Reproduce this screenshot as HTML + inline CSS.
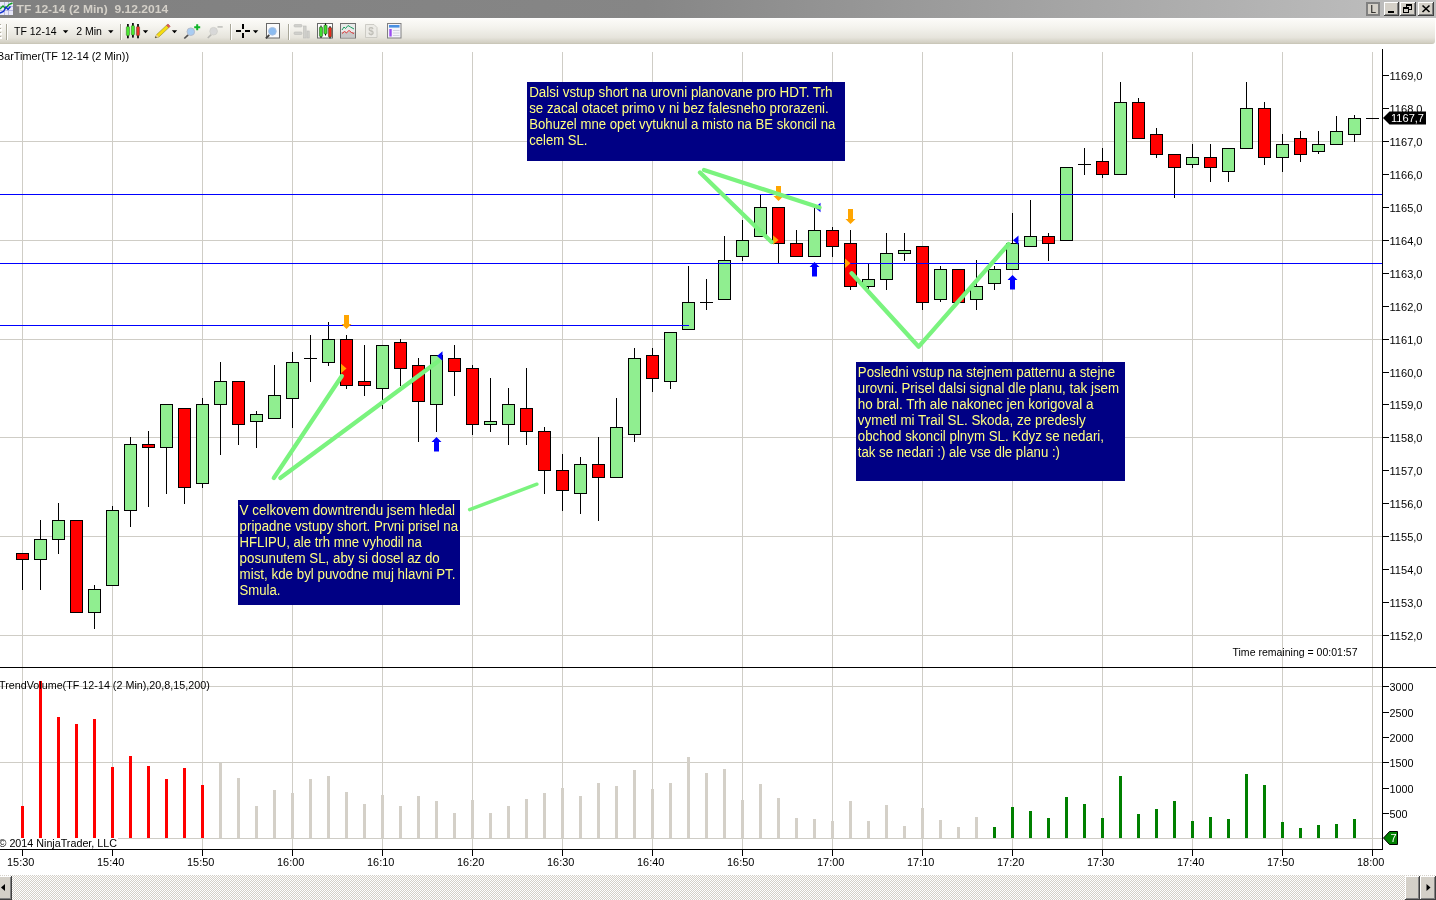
<!DOCTYPE html>
<html><head><meta charset="utf-8"><title>TF 12-14 (2 Min) 9.12.2014</title>
<style>
html,body{margin:0;padding:0}
body{width:1436px;height:900px;overflow:hidden;background:#fff;position:relative;font-family:"Liberation Sans",Arial,sans-serif;}
.abs{position:absolute}
#title{left:0;top:0;width:1436px;height:18px;background:linear-gradient(to right,#808080 0%,#868686 45%,#c0c0c0 100%);}
#title .t{position:absolute;left:16px;top:1px;font:bold 12px/15px "Liberation Sans",sans-serif;color:#d4d0c8;white-space:pre;letter-spacing:0px}
#tb{left:0;top:18px;width:1435px;height:26px;background:linear-gradient(to bottom,#ffffff 0,#fbfaf7 2px,#f4f3ee 35%,#e6e4dc 75%,#d3d0c4 94%,#c6c3b4 100%);border-radius:0 0 3px 0}
#tb span{position:absolute;top:6px;font:11px/13px "Liberation Sans",sans-serif;color:#000;white-space:pre}
.note{position:absolute;background:#000080;color:#f3f38f;font:13.4px/16px "Liberation Sans",sans-serif;white-space:pre;box-sizing:border-box;padding:0;overflow:hidden}
.note div{position:absolute;left:0;top:0}
svg text{font-family:"Liberation Sans",Arial,sans-serif;font-size:11px;fill:#000}
svg .nt text{font-size:14px;fill:#ffff80}
</style></head><body>
<div id="title" class="abs"></div>
<div id="tb" class="abs"></div>

<svg class="abs" style="left:0;top:0" width="1436" height="900" viewBox="0 0 1436 900">
<g shape-rendering="crispEdges" fill="#cfcdc6">
<rect x="22" y="52" width="1" height="615"/>
<rect x="22" y="668" width="1" height="181"/>
<rect x="112" y="52" width="1" height="615"/>
<rect x="112" y="668" width="1" height="181"/>
<rect x="202" y="52" width="1" height="615"/>
<rect x="202" y="668" width="1" height="181"/>
<rect x="292" y="52" width="1" height="615"/>
<rect x="292" y="668" width="1" height="181"/>
<rect x="382" y="52" width="1" height="615"/>
<rect x="382" y="668" width="1" height="181"/>
<rect x="472" y="52" width="1" height="615"/>
<rect x="472" y="668" width="1" height="181"/>
<rect x="562" y="52" width="1" height="615"/>
<rect x="562" y="668" width="1" height="181"/>
<rect x="652" y="52" width="1" height="615"/>
<rect x="652" y="668" width="1" height="181"/>
<rect x="742" y="52" width="1" height="615"/>
<rect x="742" y="668" width="1" height="181"/>
<rect x="832" y="52" width="1" height="615"/>
<rect x="832" y="668" width="1" height="181"/>
<rect x="922" y="52" width="1" height="615"/>
<rect x="922" y="668" width="1" height="181"/>
<rect x="1012" y="52" width="1" height="615"/>
<rect x="1012" y="668" width="1" height="181"/>
<rect x="1102" y="52" width="1" height="615"/>
<rect x="1102" y="668" width="1" height="181"/>
<rect x="1192" y="52" width="1" height="615"/>
<rect x="1192" y="668" width="1" height="181"/>
<rect x="1282" y="52" width="1" height="615"/>
<rect x="1282" y="668" width="1" height="181"/>
<rect x="1372" y="52" width="1" height="615"/>
<rect x="1372" y="668" width="1" height="181"/>
<rect x="0" y="141" width="1382" height="1"/>
<rect x="0" y="240" width="1382" height="1"/>
<rect x="0" y="339" width="1382" height="1"/>
<rect x="0" y="437" width="1382" height="1"/>
<rect x="0" y="536" width="1382" height="1"/>
<rect x="0" y="635" width="1382" height="1"/>
<rect x="0" y="686" width="1382" height="1"/>
<rect x="0" y="762" width="1382" height="1"/>
<rect x="0" y="838" width="1382" height="1"/>
</g>
<g shape-rendering="crispEdges">
<rect x="21" y="806" width="3" height="32" fill="#ff0000"/>
<rect x="39" y="681" width="3" height="157" fill="#ff0000"/>
<rect x="57" y="717" width="3" height="121" fill="#ff0000"/>
<rect x="75" y="724" width="3" height="114" fill="#ff0000"/>
<rect x="93" y="719" width="3" height="119" fill="#ff0000"/>
<rect x="111" y="767" width="3" height="71" fill="#ff0000"/>
<rect x="129" y="756" width="3" height="82" fill="#ff0000"/>
<rect x="147" y="766" width="3" height="72" fill="#ff0000"/>
<rect x="165" y="779" width="3" height="59" fill="#ff0000"/>
<rect x="183" y="768" width="3" height="70" fill="#ff0000"/>
<rect x="201" y="785" width="3" height="53" fill="#ff0000"/>
<rect x="219" y="763" width="3" height="75" fill="#d4d0c8"/>
<rect x="237" y="778" width="3" height="60" fill="#d4d0c8"/>
<rect x="255" y="806" width="3" height="32" fill="#d4d0c8"/>
<rect x="273" y="790" width="3" height="48" fill="#d4d0c8"/>
<rect x="291" y="793" width="3" height="45" fill="#d4d0c8"/>
<rect x="309" y="779" width="3" height="59" fill="#d4d0c8"/>
<rect x="327" y="776" width="3" height="62" fill="#d4d0c8"/>
<rect x="345" y="792" width="3" height="46" fill="#d4d0c8"/>
<rect x="363" y="804" width="3" height="34" fill="#d4d0c8"/>
<rect x="381" y="795" width="3" height="43" fill="#d4d0c8"/>
<rect x="399" y="806" width="3" height="32" fill="#d4d0c8"/>
<rect x="417" y="796" width="3" height="42" fill="#d4d0c8"/>
<rect x="435" y="801" width="3" height="37" fill="#d4d0c8"/>
<rect x="453" y="813" width="3" height="25" fill="#d4d0c8"/>
<rect x="471" y="800" width="3" height="38" fill="#d4d0c8"/>
<rect x="489" y="813" width="3" height="25" fill="#d4d0c8"/>
<rect x="507" y="806" width="3" height="32" fill="#d4d0c8"/>
<rect x="525" y="799" width="3" height="39" fill="#d4d0c8"/>
<rect x="543" y="793" width="3" height="45" fill="#d4d0c8"/>
<rect x="561" y="788" width="3" height="50" fill="#d4d0c8"/>
<rect x="579" y="796" width="3" height="42" fill="#d4d0c8"/>
<rect x="597" y="783" width="3" height="55" fill="#d4d0c8"/>
<rect x="615" y="786" width="3" height="52" fill="#d4d0c8"/>
<rect x="633" y="770" width="3" height="68" fill="#d4d0c8"/>
<rect x="651" y="789" width="3" height="49" fill="#d4d0c8"/>
<rect x="669" y="783" width="3" height="55" fill="#d4d0c8"/>
<rect x="687" y="757" width="3" height="81" fill="#d4d0c8"/>
<rect x="705" y="773" width="3" height="65" fill="#d4d0c8"/>
<rect x="723" y="769" width="3" height="69" fill="#d4d0c8"/>
<rect x="741" y="800" width="3" height="38" fill="#d4d0c8"/>
<rect x="759" y="784" width="3" height="54" fill="#d4d0c8"/>
<rect x="777" y="798" width="3" height="40" fill="#d4d0c8"/>
<rect x="795" y="818" width="3" height="20" fill="#d4d0c8"/>
<rect x="813" y="819" width="3" height="19" fill="#d4d0c8"/>
<rect x="831" y="821" width="3" height="17" fill="#d4d0c8"/>
<rect x="849" y="801" width="3" height="37" fill="#d4d0c8"/>
<rect x="867" y="821" width="3" height="17" fill="#d4d0c8"/>
<rect x="885" y="805" width="3" height="33" fill="#d4d0c8"/>
<rect x="903" y="826" width="3" height="12" fill="#d4d0c8"/>
<rect x="921" y="808" width="3" height="30" fill="#d4d0c8"/>
<rect x="939" y="820" width="3" height="18" fill="#d4d0c8"/>
<rect x="957" y="827" width="3" height="11" fill="#d4d0c8"/>
<rect x="975" y="817" width="3" height="21" fill="#d4d0c8"/>
<rect x="993" y="827" width="3" height="11" fill="#008000"/>
<rect x="1011" y="807" width="3" height="31" fill="#008000"/>
<rect x="1029" y="811" width="3" height="27" fill="#008000"/>
<rect x="1047" y="818" width="3" height="20" fill="#008000"/>
<rect x="1065" y="797" width="3" height="41" fill="#008000"/>
<rect x="1083" y="804" width="3" height="34" fill="#008000"/>
<rect x="1101" y="818" width="3" height="20" fill="#008000"/>
<rect x="1119" y="776" width="3" height="62" fill="#008000"/>
<rect x="1137" y="814" width="3" height="24" fill="#008000"/>
<rect x="1155" y="809" width="3" height="29" fill="#008000"/>
<rect x="1173" y="801" width="3" height="37" fill="#008000"/>
<rect x="1191" y="821" width="3" height="17" fill="#008000"/>
<rect x="1209" y="817" width="3" height="21" fill="#008000"/>
<rect x="1227" y="819" width="3" height="19" fill="#008000"/>
<rect x="1245" y="774" width="3" height="64" fill="#008000"/>
<rect x="1263" y="785" width="3" height="53" fill="#008000"/>
<rect x="1281" y="822" width="3" height="16" fill="#008000"/>
<rect x="1299" y="828" width="3" height="10" fill="#008000"/>
<rect x="1317" y="825" width="3" height="13" fill="#008000"/>
<rect x="1335" y="824" width="3" height="14" fill="#008000"/>
<rect x="1353" y="819" width="3" height="19" fill="#008000"/>
</g>
<g shape-rendering="crispEdges">
<rect x="22" y="553" width="1" height="37" fill="#000"/>
<rect x="16" y="553" width="13" height="7" fill="#000"/>
<rect x="17" y="554" width="11" height="5" fill="#ff0000"/>
<rect x="40" y="520" width="1" height="70" fill="#000"/>
<rect x="34" y="539" width="13" height="21" fill="#000"/>
<rect x="35" y="540" width="11" height="19" fill="#90ee90"/>
<rect x="58" y="503" width="1" height="51" fill="#000"/>
<rect x="52" y="520" width="13" height="20" fill="#000"/>
<rect x="53" y="521" width="11" height="18" fill="#90ee90"/>
<rect x="76" y="520" width="1" height="92" fill="#000"/>
<rect x="70" y="520" width="13" height="93" fill="#000"/>
<rect x="71" y="521" width="11" height="91" fill="#ff0000"/>
<rect x="94" y="585" width="1" height="44" fill="#000"/>
<rect x="88" y="589" width="13" height="24" fill="#000"/>
<rect x="89" y="590" width="11" height="22" fill="#90ee90"/>
<rect x="112" y="506" width="1" height="80" fill="#000"/>
<rect x="106" y="510" width="13" height="76" fill="#000"/>
<rect x="107" y="511" width="11" height="74" fill="#90ee90"/>
<rect x="130" y="437" width="1" height="90" fill="#000"/>
<rect x="124" y="444" width="13" height="67" fill="#000"/>
<rect x="125" y="445" width="11" height="65" fill="#90ee90"/>
<rect x="148" y="431" width="1" height="76" fill="#000"/>
<rect x="142" y="444" width="13" height="4" fill="#000"/>
<rect x="143" y="445" width="11" height="2" fill="#ff0000"/>
<rect x="166" y="404" width="1" height="90" fill="#000"/>
<rect x="160" y="404" width="13" height="44" fill="#000"/>
<rect x="161" y="405" width="11" height="42" fill="#90ee90"/>
<rect x="184" y="408" width="1" height="96" fill="#000"/>
<rect x="178" y="408" width="13" height="80" fill="#000"/>
<rect x="179" y="409" width="11" height="78" fill="#ff0000"/>
<rect x="202" y="398" width="1" height="90" fill="#000"/>
<rect x="196" y="404" width="13" height="80" fill="#000"/>
<rect x="197" y="405" width="11" height="78" fill="#90ee90"/>
<rect x="220" y="362" width="1" height="93" fill="#000"/>
<rect x="214" y="381" width="13" height="24" fill="#000"/>
<rect x="215" y="382" width="11" height="22" fill="#90ee90"/>
<rect x="238" y="381" width="1" height="64" fill="#000"/>
<rect x="232" y="381" width="13" height="44" fill="#000"/>
<rect x="233" y="382" width="11" height="42" fill="#ff0000"/>
<rect x="256" y="411" width="1" height="37" fill="#000"/>
<rect x="250" y="414" width="13" height="8" fill="#000"/>
<rect x="251" y="415" width="11" height="6" fill="#90ee90"/>
<rect x="274" y="365" width="1" height="53" fill="#000"/>
<rect x="268" y="395" width="13" height="24" fill="#000"/>
<rect x="269" y="396" width="11" height="22" fill="#90ee90"/>
<rect x="292" y="352" width="1" height="76" fill="#000"/>
<rect x="286" y="362" width="13" height="37" fill="#000"/>
<rect x="287" y="363" width="11" height="35" fill="#90ee90"/>
<rect x="310" y="335" width="1" height="47" fill="#000"/>
<rect x="304" y="358" width="13" height="1" fill="#000"/>
<rect x="328" y="322" width="1" height="44" fill="#000"/>
<rect x="322" y="339" width="13" height="24" fill="#000"/>
<rect x="323" y="340" width="11" height="22" fill="#90ee90"/>
<rect x="346" y="335" width="1" height="54" fill="#000"/>
<rect x="340" y="339" width="13" height="47" fill="#000"/>
<rect x="341" y="340" width="11" height="45" fill="#ff0000"/>
<rect x="364" y="345" width="1" height="51" fill="#000"/>
<rect x="358" y="381" width="13" height="5" fill="#000"/>
<rect x="359" y="382" width="11" height="3" fill="#ff0000"/>
<rect x="382" y="345" width="1" height="64" fill="#000"/>
<rect x="376" y="345" width="13" height="44" fill="#000"/>
<rect x="377" y="346" width="11" height="42" fill="#90ee90"/>
<rect x="400" y="339" width="1" height="47" fill="#000"/>
<rect x="394" y="342" width="13" height="27" fill="#000"/>
<rect x="395" y="343" width="11" height="25" fill="#ff0000"/>
<rect x="418" y="358" width="1" height="84" fill="#000"/>
<rect x="412" y="365" width="13" height="37" fill="#000"/>
<rect x="413" y="366" width="11" height="35" fill="#ff0000"/>
<rect x="436" y="356" width="1" height="76" fill="#000"/>
<rect x="430" y="355" width="13" height="50" fill="#000"/>
<rect x="431" y="356" width="11" height="48" fill="#90ee90"/>
<rect x="454" y="345" width="1" height="51" fill="#000"/>
<rect x="448" y="358" width="13" height="14" fill="#000"/>
<rect x="449" y="359" width="11" height="12" fill="#ff0000"/>
<rect x="472" y="365" width="1" height="70" fill="#000"/>
<rect x="466" y="368" width="13" height="57" fill="#000"/>
<rect x="467" y="369" width="11" height="55" fill="#ff0000"/>
<rect x="490" y="378" width="1" height="54" fill="#000"/>
<rect x="484" y="421" width="13" height="4" fill="#000"/>
<rect x="485" y="422" width="11" height="2" fill="#90ee90"/>
<rect x="508" y="388" width="1" height="57" fill="#000"/>
<rect x="502" y="404" width="13" height="21" fill="#000"/>
<rect x="503" y="405" width="11" height="19" fill="#90ee90"/>
<rect x="526" y="368" width="1" height="77" fill="#000"/>
<rect x="520" y="408" width="13" height="24" fill="#000"/>
<rect x="521" y="409" width="11" height="22" fill="#ff0000"/>
<rect x="544" y="427" width="1" height="67" fill="#000"/>
<rect x="538" y="431" width="13" height="40" fill="#000"/>
<rect x="539" y="432" width="11" height="38" fill="#ff0000"/>
<rect x="562" y="454" width="1" height="57" fill="#000"/>
<rect x="556" y="470" width="13" height="21" fill="#000"/>
<rect x="557" y="471" width="11" height="19" fill="#ff0000"/>
<rect x="580" y="457" width="1" height="57" fill="#000"/>
<rect x="574" y="464" width="13" height="30" fill="#000"/>
<rect x="575" y="465" width="11" height="28" fill="#90ee90"/>
<rect x="598" y="437" width="1" height="84" fill="#000"/>
<rect x="592" y="464" width="13" height="14" fill="#000"/>
<rect x="593" y="465" width="11" height="12" fill="#ff0000"/>
<rect x="616" y="398" width="1" height="79" fill="#000"/>
<rect x="610" y="427" width="13" height="51" fill="#000"/>
<rect x="611" y="428" width="11" height="49" fill="#90ee90"/>
<rect x="634" y="348" width="1" height="94" fill="#000"/>
<rect x="628" y="358" width="13" height="77" fill="#000"/>
<rect x="629" y="359" width="11" height="75" fill="#90ee90"/>
<rect x="652" y="348" width="1" height="44" fill="#000"/>
<rect x="646" y="355" width="13" height="24" fill="#000"/>
<rect x="647" y="356" width="11" height="22" fill="#ff0000"/>
<rect x="670" y="333" width="1" height="56" fill="#000"/>
<rect x="664" y="332" width="13" height="50" fill="#000"/>
<rect x="665" y="333" width="11" height="48" fill="#90ee90"/>
<rect x="688" y="266" width="1" height="63" fill="#000"/>
<rect x="682" y="302" width="13" height="28" fill="#000"/>
<rect x="683" y="303" width="11" height="26" fill="#90ee90"/>
<rect x="706" y="279" width="1" height="31" fill="#000"/>
<rect x="700" y="302" width="13" height="1" fill="#000"/>
<rect x="724" y="236" width="1" height="63" fill="#000"/>
<rect x="718" y="260" width="13" height="40" fill="#000"/>
<rect x="719" y="261" width="11" height="38" fill="#90ee90"/>
<rect x="742" y="220" width="1" height="41" fill="#000"/>
<rect x="736" y="240" width="13" height="17" fill="#000"/>
<rect x="737" y="241" width="11" height="15" fill="#90ee90"/>
<rect x="760" y="194" width="1" height="42" fill="#000"/>
<rect x="754" y="207" width="13" height="30" fill="#000"/>
<rect x="755" y="208" width="11" height="28" fill="#90ee90"/>
<rect x="778" y="208" width="1" height="55" fill="#000"/>
<rect x="772" y="207" width="13" height="37" fill="#000"/>
<rect x="773" y="208" width="11" height="35" fill="#ff0000"/>
<rect x="796" y="230" width="1" height="26" fill="#000"/>
<rect x="790" y="243" width="13" height="14" fill="#000"/>
<rect x="791" y="244" width="11" height="12" fill="#ff0000"/>
<rect x="814" y="207" width="1" height="49" fill="#000"/>
<rect x="808" y="230" width="13" height="27" fill="#000"/>
<rect x="809" y="231" width="11" height="25" fill="#90ee90"/>
<rect x="832" y="227" width="1" height="30" fill="#000"/>
<rect x="826" y="230" width="13" height="17" fill="#000"/>
<rect x="827" y="231" width="11" height="15" fill="#ff0000"/>
<rect x="850" y="230" width="1" height="60" fill="#000"/>
<rect x="844" y="243" width="13" height="44" fill="#000"/>
<rect x="845" y="244" width="11" height="42" fill="#ff0000"/>
<rect x="868" y="264" width="1" height="25" fill="#000"/>
<rect x="862" y="279" width="13" height="8" fill="#000"/>
<rect x="863" y="280" width="11" height="6" fill="#90ee90"/>
<rect x="886" y="233" width="1" height="57" fill="#000"/>
<rect x="880" y="253" width="13" height="27" fill="#000"/>
<rect x="881" y="254" width="11" height="25" fill="#90ee90"/>
<rect x="904" y="233" width="1" height="28" fill="#000"/>
<rect x="898" y="250" width="13" height="4" fill="#000"/>
<rect x="899" y="251" width="11" height="2" fill="#90ee90"/>
<rect x="922" y="247" width="1" height="63" fill="#000"/>
<rect x="916" y="246" width="13" height="57" fill="#000"/>
<rect x="917" y="247" width="11" height="55" fill="#ff0000"/>
<rect x="940" y="266" width="1" height="36" fill="#000"/>
<rect x="934" y="269" width="13" height="31" fill="#000"/>
<rect x="935" y="270" width="11" height="29" fill="#90ee90"/>
<rect x="958" y="270" width="1" height="32" fill="#000"/>
<rect x="952" y="269" width="13" height="34" fill="#000"/>
<rect x="953" y="270" width="11" height="32" fill="#ff0000"/>
<rect x="976" y="260" width="1" height="50" fill="#000"/>
<rect x="970" y="286" width="13" height="14" fill="#000"/>
<rect x="971" y="287" width="11" height="12" fill="#90ee90"/>
<rect x="994" y="266" width="1" height="24" fill="#000"/>
<rect x="988" y="269" width="13" height="15" fill="#000"/>
<rect x="989" y="270" width="11" height="13" fill="#90ee90"/>
<rect x="1012" y="213" width="1" height="57" fill="#000"/>
<rect x="1006" y="243" width="13" height="27" fill="#000"/>
<rect x="1007" y="244" width="11" height="25" fill="#90ee90"/>
<rect x="1030" y="200" width="1" height="46" fill="#000"/>
<rect x="1024" y="236" width="13" height="11" fill="#000"/>
<rect x="1025" y="237" width="11" height="9" fill="#90ee90"/>
<rect x="1048" y="233" width="1" height="28" fill="#000"/>
<rect x="1042" y="236" width="13" height="8" fill="#000"/>
<rect x="1043" y="237" width="11" height="6" fill="#ff0000"/>
<rect x="1066" y="168" width="1" height="72" fill="#000"/>
<rect x="1060" y="167" width="13" height="74" fill="#000"/>
<rect x="1061" y="168" width="11" height="72" fill="#90ee90"/>
<rect x="1084" y="148" width="1" height="27" fill="#000"/>
<rect x="1078" y="164" width="13" height="1" fill="#000"/>
<rect x="1102" y="148" width="1" height="30" fill="#000"/>
<rect x="1096" y="161" width="13" height="14" fill="#000"/>
<rect x="1097" y="162" width="11" height="12" fill="#ff0000"/>
<rect x="1120" y="82" width="1" height="92" fill="#000"/>
<rect x="1114" y="102" width="13" height="73" fill="#000"/>
<rect x="1115" y="103" width="11" height="71" fill="#90ee90"/>
<rect x="1138" y="98" width="1" height="40" fill="#000"/>
<rect x="1132" y="102" width="13" height="37" fill="#000"/>
<rect x="1133" y="103" width="11" height="35" fill="#ff0000"/>
<rect x="1156" y="128" width="1" height="30" fill="#000"/>
<rect x="1150" y="134" width="13" height="21" fill="#000"/>
<rect x="1151" y="135" width="11" height="19" fill="#ff0000"/>
<rect x="1174" y="154" width="1" height="44" fill="#000"/>
<rect x="1168" y="154" width="13" height="14" fill="#000"/>
<rect x="1169" y="155" width="11" height="12" fill="#ff0000"/>
<rect x="1192" y="144" width="1" height="24" fill="#000"/>
<rect x="1186" y="157" width="13" height="8" fill="#000"/>
<rect x="1187" y="158" width="11" height="6" fill="#90ee90"/>
<rect x="1210" y="144" width="1" height="38" fill="#000"/>
<rect x="1204" y="157" width="13" height="11" fill="#000"/>
<rect x="1205" y="158" width="11" height="9" fill="#ff0000"/>
<rect x="1228" y="148" width="1" height="34" fill="#000"/>
<rect x="1222" y="148" width="13" height="24" fill="#000"/>
<rect x="1223" y="149" width="11" height="22" fill="#90ee90"/>
<rect x="1246" y="82" width="1" height="66" fill="#000"/>
<rect x="1240" y="108" width="13" height="41" fill="#000"/>
<rect x="1241" y="109" width="11" height="39" fill="#90ee90"/>
<rect x="1264" y="102" width="1" height="63" fill="#000"/>
<rect x="1258" y="108" width="13" height="50" fill="#000"/>
<rect x="1259" y="109" width="11" height="48" fill="#ff0000"/>
<rect x="1282" y="134" width="1" height="38" fill="#000"/>
<rect x="1276" y="144" width="13" height="14" fill="#000"/>
<rect x="1277" y="145" width="11" height="12" fill="#90ee90"/>
<rect x="1300" y="131" width="1" height="31" fill="#000"/>
<rect x="1294" y="138" width="13" height="17" fill="#000"/>
<rect x="1295" y="139" width="11" height="15" fill="#ff0000"/>
<rect x="1318" y="131" width="1" height="23" fill="#000"/>
<rect x="1312" y="144" width="13" height="8" fill="#000"/>
<rect x="1313" y="145" width="11" height="6" fill="#90ee90"/>
<rect x="1336" y="116" width="1" height="28" fill="#000"/>
<rect x="1330" y="131" width="13" height="14" fill="#000"/>
<rect x="1331" y="132" width="11" height="12" fill="#90ee90"/>
<rect x="1354" y="115" width="1" height="27" fill="#000"/>
<rect x="1348" y="118" width="13" height="17" fill="#000"/>
<rect x="1349" y="119" width="11" height="15" fill="#90ee90"/>
<rect x="1366" y="118" width="13" height="1" fill="#000"/>
</g>
<g shape-rendering="crispEdges" fill="#0000ff">
<rect x="0" y="194" width="1382" height="1"/>
<rect x="0" y="263" width="1382" height="1"/>
<rect x="0" y="325" width="689" height="1"/>
</g>
<path d="M344 315 h5 v9 h2.5 l-5 5 l-5 -5 h2.5 z" fill="#ffa500"/>
<path d="M776 186 h5 v10 h2.5 l-5 5 l-5 -5 h2.5 z" fill="#ffa500"/>
<path d="M848 209 h5 v10 h2.5 l-5 5 l-5 -5 h2.5 z" fill="#ffa500"/>
<path d="M436.5 437 l5 5 h-2.5 v9.5 h-5 v-9.5 h-2.5 z" fill="#0000ff"/>
<path d="M814.5 262 l5 5 h-2.5 v9.5 h-5 v-9.5 h-2.5 z" fill="#0000ff"/>
<path d="M1012.5 275 l5 5 h-2.5 v9.5 h-5 v-9.5 h-2.5 z" fill="#0000ff"/>
<path d="M341 363.7 l5.5 4.8 l-5.5 4.8 z" fill="#ffa500"/>
<path d="M773 235.2 l5.5 4.8 l-5.5 4.8 z" fill="#ffa500"/>
<path d="M845 258.5 l5.5 4.8 l-5.5 4.8 z" fill="#ffa500"/>
<path d="M442.5 351.2 l-5.5 4.8 l5.5 4.8 z" fill="#0000ff"/>
<path d="M820.5 202.7 l-5.5 4.8 l5.5 4.8 z" fill="#0000ff"/>
<path d="M1018.5 235.5 l-5.5 4.8 l5.5 4.8 z" fill="#0000ff"/>
<g fill="none" stroke="#7af37e" stroke-width="4.3" stroke-linecap="round" stroke-linejoin="round">
<path d="M341.8 376 L273.8 478 M280.3 478 L438.5 361"/>
<path d="M469.6 509.7 L536.9 484.2" stroke-width="3.4"/>
<path d="M771.5 242 L700 172.5 M704 170 L819.5 207.5"/>
<path d="M851.6 273.3 L918.7 346.7 L1008.7 244"/>
</g>
<g shape-rendering="crispEdges" fill="#000">
<rect x="1382" y="49" width="1" height="801"/>
<rect x="0" y="667" width="1436" height="1"/>
<rect x="0" y="849" width="1383" height="1"/>
<rect x="1382" y="635" width="7" height="1"/>
<rect x="1382" y="602" width="7" height="1"/>
<rect x="1382" y="569" width="7" height="1"/>
<rect x="1382" y="536" width="7" height="1"/>
<rect x="1382" y="503" width="7" height="1"/>
<rect x="1382" y="470" width="7" height="1"/>
<rect x="1382" y="437" width="7" height="1"/>
<rect x="1382" y="404" width="7" height="1"/>
<rect x="1382" y="372" width="7" height="1"/>
<rect x="1382" y="339" width="7" height="1"/>
<rect x="1382" y="306" width="7" height="1"/>
<rect x="1382" y="273" width="7" height="1"/>
<rect x="1382" y="240" width="7" height="1"/>
<rect x="1382" y="207" width="7" height="1"/>
<rect x="1382" y="174" width="7" height="1"/>
<rect x="1382" y="141" width="7" height="1"/>
<rect x="1382" y="108" width="7" height="1"/>
<rect x="1382" y="75" width="7" height="1"/>
<rect x="1382" y="686" width="7" height="1"/>
<rect x="1382" y="712" width="7" height="1"/>
<rect x="1382" y="737" width="7" height="1"/>
<rect x="1382" y="762" width="7" height="1"/>
<rect x="1382" y="788" width="7" height="1"/>
<rect x="1382" y="813" width="7" height="1"/>
<rect x="22" y="849" width="1" height="7"/>
<rect x="112" y="849" width="1" height="7"/>
<rect x="202" y="849" width="1" height="7"/>
<rect x="292" y="849" width="1" height="7"/>
<rect x="382" y="849" width="1" height="7"/>
<rect x="472" y="849" width="1" height="7"/>
<rect x="562" y="849" width="1" height="7"/>
<rect x="652" y="849" width="1" height="7"/>
<rect x="742" y="849" width="1" height="7"/>
<rect x="832" y="849" width="1" height="7"/>
<rect x="922" y="849" width="1" height="7"/>
<rect x="1012" y="849" width="1" height="7"/>
<rect x="1102" y="849" width="1" height="7"/>
<rect x="1192" y="849" width="1" height="7"/>
<rect x="1282" y="849" width="1" height="7"/>
<rect x="1372" y="849" width="1" height="7"/>
</g>
<text x="1389.5" y="639.5" textLength="33" lengthAdjust="spacingAndGlyphs">1152,0</text>
<text x="1389.5" y="606.5" textLength="33" lengthAdjust="spacingAndGlyphs">1153,0</text>
<text x="1389.5" y="573.5" textLength="33" lengthAdjust="spacingAndGlyphs">1154,0</text>
<text x="1389.5" y="540.5" textLength="33" lengthAdjust="spacingAndGlyphs">1155,0</text>
<text x="1389.5" y="507.5" textLength="33" lengthAdjust="spacingAndGlyphs">1156,0</text>
<text x="1389.5" y="474.5" textLength="33" lengthAdjust="spacingAndGlyphs">1157,0</text>
<text x="1389.5" y="441.5" textLength="33" lengthAdjust="spacingAndGlyphs">1158,0</text>
<text x="1389.5" y="408.5" textLength="33" lengthAdjust="spacingAndGlyphs">1159,0</text>
<text x="1389.5" y="376.5" textLength="33" lengthAdjust="spacingAndGlyphs">1160,0</text>
<text x="1389.5" y="343.5" textLength="33" lengthAdjust="spacingAndGlyphs">1161,0</text>
<text x="1389.5" y="310.5" textLength="33" lengthAdjust="spacingAndGlyphs">1162,0</text>
<text x="1389.5" y="277.5" textLength="33" lengthAdjust="spacingAndGlyphs">1163,0</text>
<text x="1389.5" y="244.5" textLength="33" lengthAdjust="spacingAndGlyphs">1164,0</text>
<text x="1389.5" y="211.5" textLength="33" lengthAdjust="spacingAndGlyphs">1165,0</text>
<text x="1389.5" y="178.5" textLength="33" lengthAdjust="spacingAndGlyphs">1166,0</text>
<text x="1389.5" y="145.5" textLength="33" lengthAdjust="spacingAndGlyphs">1167,0</text>
<text x="1389.5" y="112.5" textLength="33" lengthAdjust="spacingAndGlyphs">1168,0</text>
<text x="1389.5" y="79.5" textLength="33" lengthAdjust="spacingAndGlyphs">1169,0</text>
<text x="1389.5" y="690.5" textLength="24" lengthAdjust="spacingAndGlyphs">3000</text>
<text x="1389.5" y="716.5" textLength="24" lengthAdjust="spacingAndGlyphs">2500</text>
<text x="1389.5" y="741.5" textLength="24" lengthAdjust="spacingAndGlyphs">2000</text>
<text x="1389.5" y="766.5" textLength="24" lengthAdjust="spacingAndGlyphs">1500</text>
<text x="1389.5" y="792.5" textLength="24" lengthAdjust="spacingAndGlyphs">1000</text>
<text x="1389.5" y="817.5" textLength="18" lengthAdjust="spacingAndGlyphs">500</text>
<text x="7" y="866" textLength="27.3" lengthAdjust="spacingAndGlyphs">15:30</text>
<text x="97" y="866" textLength="27.3" lengthAdjust="spacingAndGlyphs">15:40</text>
<text x="187" y="866" textLength="27.3" lengthAdjust="spacingAndGlyphs">15:50</text>
<text x="277" y="866" textLength="27.3" lengthAdjust="spacingAndGlyphs">16:00</text>
<text x="367" y="866" textLength="27.3" lengthAdjust="spacingAndGlyphs">16:10</text>
<text x="457" y="866" textLength="27.3" lengthAdjust="spacingAndGlyphs">16:20</text>
<text x="547" y="866" textLength="27.3" lengthAdjust="spacingAndGlyphs">16:30</text>
<text x="637" y="866" textLength="27.3" lengthAdjust="spacingAndGlyphs">16:40</text>
<text x="727" y="866" textLength="27.3" lengthAdjust="spacingAndGlyphs">16:50</text>
<text x="817" y="866" textLength="27.3" lengthAdjust="spacingAndGlyphs">17:00</text>
<text x="907" y="866" textLength="27.3" lengthAdjust="spacingAndGlyphs">17:10</text>
<text x="997" y="866" textLength="27.3" lengthAdjust="spacingAndGlyphs">17:20</text>
<text x="1087" y="866" textLength="27.3" lengthAdjust="spacingAndGlyphs">17:30</text>
<text x="1177" y="866" textLength="27.3" lengthAdjust="spacingAndGlyphs">17:40</text>
<text x="1267" y="866" textLength="27.3" lengthAdjust="spacingAndGlyphs">17:50</text>
<text x="1357" y="866" textLength="27.3" lengthAdjust="spacingAndGlyphs">18:00</text>
<path d="M1383 118 L1389.5 111.5 H1426 V124.5 H1389.5 Z" fill="#000"/>
<text x="1391" y="122" textLength="33" lengthAdjust="spacingAndGlyphs" style="fill:#fff">1167,7</text>
<path d="M1383.5 838 L1389.5 831.5 H1397.5 V844.5 H1389.5 Z" fill="#008000" stroke="#000" stroke-width="1"/>
<text x="1390.5" y="842" style="fill:#fff">7</text>
<text x="-3" y="59.7" textLength="132" lengthAdjust="spacingAndGlyphs">BarTimer(TF 12-14 (2 Min))</text>
<text x="-1" y="689" textLength="210.8" lengthAdjust="spacingAndGlyphs">TrendVolume(TF 12-14 (2 Min),20,8,15,200)</text>
<rect x="0" y="838" width="118" height="11" fill="#fff"/>
<text x="-1.5" y="846.5" textLength="118.5" lengthAdjust="spacingAndGlyphs">© 2014 NinjaTrader, LLC</text>
<text x="1232.5" y="656" textLength="125" lengthAdjust="spacingAndGlyphs">Time remaining = 00:01:57</text>
<rect x="527" y="82" width="318" height="79" fill="#000084" shape-rendering="crispEdges"/>
<g class="nt">
<text x="529.2" y="97.2" textLength="303.3" lengthAdjust="spacingAndGlyphs">Dalsi vstup short na urovni planovane pro HDT. Trh</text>
<text x="529.2" y="113.2" textLength="299.5" lengthAdjust="spacingAndGlyphs">se zacal otacet primo v ni bez falesneho prorazeni.</text>
<text x="529.2" y="129.2" textLength="306.1" lengthAdjust="spacingAndGlyphs">Bohuzel mne opet vytuknul a misto na BE skoncil na</text>
<text x="529.2" y="145.2" textLength="58.2" lengthAdjust="spacingAndGlyphs">celem SL.</text>
</g>
<rect x="856" y="362" width="269" height="119" fill="#000084" shape-rendering="crispEdges"/>
<g class="nt">
<text x="857.8" y="377.2" textLength="257.3" lengthAdjust="spacingAndGlyphs">Posledni vstup na stejnem patternu a stejne</text>
<text x="857.8" y="393.2" textLength="261.3" lengthAdjust="spacingAndGlyphs">urovni. Prisel dalsi signal dle planu, tak jsem</text>
<text x="857.8" y="409.2" textLength="235.7" lengthAdjust="spacingAndGlyphs">ho bral. Trh ale nakonec jen korigoval a</text>
<text x="857.8" y="425.2" textLength="228" lengthAdjust="spacingAndGlyphs">vymetl mi Trail SL. Skoda, ze predesly</text>
<text x="857.8" y="441.2" textLength="246.2" lengthAdjust="spacingAndGlyphs">obchod skoncil plnym SL. Kdyz se nedari,</text>
<text x="857.8" y="457.2" textLength="202.2" lengthAdjust="spacingAndGlyphs">tak se nedari :) ale vse dle planu :)</text>
</g>
<rect x="238" y="500" width="222" height="105" fill="#000084" shape-rendering="crispEdges"/>
<g class="nt">
<text x="239.6" y="514.8" textLength="215.3" lengthAdjust="spacingAndGlyphs">V celkovem downtrendu jsem hledal</text>
<text x="239.6" y="530.8" textLength="218.5" lengthAdjust="spacingAndGlyphs">pripadne vstupy short. Prvni prisel na</text>
<text x="239.6" y="546.8" textLength="182.3" lengthAdjust="spacingAndGlyphs">HFLIPU, ale trh mne vyhodil na</text>
<text x="239.6" y="562.8" textLength="200.2" lengthAdjust="spacingAndGlyphs">posunutem SL, aby si dosel az do</text>
<text x="239.6" y="578.8" textLength="215.9" lengthAdjust="spacingAndGlyphs">mist, kde byl puvodne muj hlavni PT.</text>
<text x="239.6" y="594.8" textLength="40.9" lengthAdjust="spacingAndGlyphs">Smula.</text>
</g>
<rect x="0" y="2" width="13" height="13" fill="#e8e8f8"/>
<path d="M0 6.5H13M0 10.5H13M4.5 2V15M8.5 2V15" stroke="#b8b8e0" stroke-width="1" fill="none"/>
<path d="M0 9 L3 6 L5.5 8.5 L9 4.5 L12.5 3" stroke="#10a020" stroke-width="1.4" fill="none"/>
<path d="M0 13 L3.5 11.5 L6 7 L8 9.5 L10.5 6.5" stroke="#1030d0" stroke-width="1.4" fill="none"/>
<text x="16.6" y="13" textLength="151.5" lengthAdjust="spacingAndGlyphs" style="white-space:pre;font-weight:bold;font-size:11px;fill:#d4d0c8">TF 12-14 (2 Min)  9.12.2014</text>
<g shape-rendering="crispEdges">
<rect x="1366" y="2" width="14" height="14" fill="#808080"/><rect x="1368" y="4" width="10" height="10" fill="#d4d0c8"/>
<rect x="1384" y="2" width="15" height="14" fill="#404040"/>
<rect x="1384" y="2" width="14" height="13" fill="#ffffff"/>
<rect x="1385" y="3" width="13" height="12" fill="#808080"/>
<rect x="1385" y="3" width="12" height="11" fill="#d4d0c8"/>
<rect x="1400" y="2" width="16" height="14" fill="#404040"/>
<rect x="1400" y="2" width="15" height="13" fill="#ffffff"/>
<rect x="1401" y="3" width="14" height="12" fill="#808080"/>
<rect x="1401" y="3" width="13" height="11" fill="#d4d0c8"/>
<rect x="1418" y="2" width="16" height="14" fill="#404040"/>
<rect x="1418" y="2" width="15" height="13" fill="#ffffff"/>
<rect x="1419" y="3" width="14" height="12" fill="#808080"/>
<rect x="1419" y="3" width="13" height="11" fill="#d4d0c8"/>
<rect x="1388" y="11" width="6" height="2" fill="#000"/>
<rect x="1406" y="4" width="6" height="2" fill="#000"/><rect x="1411" y="4" width="1" height="6" fill="#000"/><rect x="1406" y="5" width="1" height="2" fill="#000"/><rect x="1409" y="9" width="3" height="1" fill="#000"/>
<rect x="1403" y="7" width="6" height="2" fill="#000"/><rect x="1403" y="7" width="1" height="6" fill="#000"/><rect x="1408" y="7" width="1" height="6" fill="#000"/><rect x="1403" y="12" width="6" height="1" fill="#000"/>
</g>
<path d="M1422.5 5.5 L1429.5 12 M1429.5 5.5 L1422.5 12" stroke="#000" stroke-width="1.6" fill="none"/>
<text x="1370.6" y="13.4" style="font-size:10px">L</text>
<g shape-rendering="crispEdges">
<rect x="0" y="25" width="2" height="2" fill="#fff"/><rect x="0" y="24" width="1" height="1" fill="#b0ada0"/>
<rect x="0" y="29" width="2" height="2" fill="#fff"/><rect x="0" y="28" width="1" height="1" fill="#b0ada0"/>
<rect x="0" y="33" width="2" height="2" fill="#fff"/><rect x="0" y="32" width="1" height="1" fill="#b0ada0"/>
<rect x="0" y="37" width="2" height="2" fill="#fff"/><rect x="0" y="36" width="1" height="1" fill="#b0ada0"/>
<rect x="6" y="24" width="1" height="16" fill="#a8a698"/><rect x="7" y="24" width="1" height="16" fill="#ffffff"/>
<rect x="120" y="24" width="1" height="16" fill="#a8a698"/><rect x="121" y="24" width="1" height="16" fill="#ffffff"/>
<rect x="230" y="24" width="1" height="16" fill="#a8a698"/><rect x="231" y="24" width="1" height="16" fill="#ffffff"/>
<rect x="288" y="24" width="1" height="16" fill="#a8a698"/><rect x="289" y="24" width="1" height="16" fill="#ffffff"/>
</g>
<text x="14" y="34.8" textLength="42.6" lengthAdjust="spacingAndGlyphs">TF 12-14</text>
<text x="76.2" y="34.8" textLength="25.8" lengthAdjust="spacingAndGlyphs">2 Min</text>
<path d="M62.9 30.2 h5.4 l-2.7 3 z" fill="#000"/>
<path d="M108.1 30.2 h5.4 l-2.7 3 z" fill="#000"/>
<path d="M142.8 30.2 h5.4 l-2.7 3 z" fill="#000"/>
<path d="M171.8 30.2 h5.4 l-2.7 3 z" fill="#000"/>
<path d="M252.9 30.2 h5.4 l-2.7 3 z" fill="#000"/>
<rect x="127" y="24" width="1.8" height="14.3" fill="#101010"/>
<rect x="126.3" y="26.4" width="3.2" height="9.4" rx="1.2" fill="#48e830" stroke="#204010" stroke-width="0.4"/>
<rect x="132" y="23" width="1.8" height="14.6" fill="#101010"/>
<rect x="131.3" y="25.4" width="3.2" height="9.7" rx="1.2" fill="#48e830" stroke="#204010" stroke-width="0.4"/>
<rect x="137.1" y="24" width="1.8" height="14.3" fill="#101010"/>
<rect x="136.4" y="26.4" width="3.2" height="9.4" rx="1.2" fill="#ee3028" stroke="#204010" stroke-width="0.4"/>
<path d="M155.2 37.8 L156.6 34.6 L166.6 25.2 L168.9 27.6 L158.9 37 Z" fill="#f7dc10" stroke="#8a8a30" stroke-width="0.6"/>
<path d="M166.6 25.2 L168 24 L170.2 26.3 L168.9 27.6 Z" fill="#e85858" stroke="#a03838" stroke-width="0.5"/>
<path d="M155.2 37.8 L156.6 34.6 L158.9 37 Z" fill="#e8d0a0"/><path d="M155 38 l0.7 -1.7 l1.2 1.2 z" fill="#303040"/>
<path d="M188.2 34.8 L184.3 38.5" stroke="#505050" stroke-width="1.7"/>
<circle cx="190.8" cy="31.7" r="3.8" fill="#a8ccf2" stroke="#b0b8c8" stroke-width="0.9"/>
<path d="M194.2 27.2 h6 M197.2 24.2 v6" stroke="#10b428" stroke-width="2"/>
<path d="M211.2 34.6 L207.8 38" stroke="#b8b8b4" stroke-width="1.7"/>
<circle cx="213.6" cy="31.2" r="3.8" fill="#d8d8d8" stroke="#d0d0cc" stroke-width="0.9"/>
<path d="M217.5 26.9 h5.2" stroke="#c4c4c0" stroke-width="1.7"/>
<g shape-rendering="crispEdges" fill="#000"><rect x="236" y="30" width="5" height="2"/><rect x="245" y="30" width="5" height="2"/><rect x="242" y="24" width="2" height="5"/><rect x="242" y="33" width="2" height="5"/></g>
<rect x="266.5" y="23.5" width="13" height="14.5" fill="#fbfbfb" stroke="#686868" stroke-width="1"/>
<path d="M269.3 35 L265.8 38.3" stroke="#404040" stroke-width="1.8"/>
<circle cx="272.4" cy="31.3" r="3.9" fill="#8cbcf0" stroke="#a8c0e0" stroke-width="0.9"/>
<g fill="#d0d0cc" stroke="#bcbcb8" stroke-width="0.6"><rect x="294" y="24.5" width="8" height="2.5" rx="1"/><rect x="294" y="32" width="8" height="2.5" rx="1"/><rect x="303.5" y="26" width="2.6" height="12"/><rect x="307" y="31" width="2.2" height="7"/></g>
<rect x="317.5" y="23.5" width="15" height="14.5" fill="#fdfdfd" stroke="#686868" stroke-width="1"/>
<rect x="320.5" y="25.5" width="1" height="12.5" fill="#000"/>
<rect x="319.4" y="27" width="3.2" height="9.5" rx="0.8" fill="#3fdc30" stroke="#1c3c10" stroke-width="0.5"/>
<rect x="325" y="23.5" width="1" height="12" fill="#000"/>
<rect x="323.9" y="25" width="3.2" height="9" rx="0.8" fill="#3fdc30" stroke="#1c3c10" stroke-width="0.5"/>
<rect x="329.5" y="26" width="1" height="12.5" fill="#000"/>
<rect x="328.4" y="27.5" width="3.2" height="9.5" rx="0.8" fill="#e8281c" stroke="#1c3c10" stroke-width="0.5"/>
<rect x="340.5" y="23.5" width="15" height="14.5" fill="#e9e9e9" stroke="#707070" stroke-width="1"/>
<rect x="341" y="32" width="14" height="5.5" fill="#c8c8c8"/>
<path d="M342 30 L344 27 L345.5 28.5 L348 25.5 L350.5 27 L354 29" stroke="#18a060" stroke-width="1" fill="none"/>
<path d="M342 33.5 L344.5 31.5 L346.5 32.8 L349 30.5 L351.5 32.5 L354 33.5" stroke="#e03030" stroke-width="1" fill="none"/>
<path d="M365.5 24.5 H374 L377 27.5 V37.5 H365.5 Z" fill="#ecebe6" stroke="#c4c3bc" stroke-width="0.8"/>
<text x="368.2" y="35" style="font-size:10px;font-weight:bold;fill:#c0bfb8">$</text>
<rect x="387.5" y="23.5" width="13.5" height="14.5" fill="#f4f4fa" stroke="#808080" stroke-width="1"/>
<rect x="389" y="25" width="10.5" height="2.6" fill="#4a90e2"/>
<rect x="389.3" y="29" width="2.4" height="7.5" fill="#9a4cf0"/>
<path d="M393 30.5H399.5M393 33H399.5M393 35.5H399.5" stroke="#c8c8d8" stroke-width="0.8"/>
</svg>
<div class="abs" style="left:0;top:875px;width:1436px;height:25px;background:repeating-conic-gradient(#ffffff 0 25%,#d4d0c8 0 50%) 0 0/2px 2px"></div>
<div class="abs" style="left:-5px;top:876px;width:17px;height:24px;background:#404040"></div><div class="abs" style="left:-5px;top:876px;width:16px;height:23px;background:#fff"></div><div class="abs" style="left:-4px;top:877px;width:15px;height:22px;background:#808080"></div><div class="abs" style="left:-4px;top:877px;width:14px;height:21px;background:#d4d0c8"></div>
<div class="abs" style="left:1405px;top:876px;width:15px;height:24px;background:#404040"></div><div class="abs" style="left:1405px;top:876px;width:14px;height:23px;background:#fff"></div><div class="abs" style="left:1406px;top:877px;width:13px;height:22px;background:#808080"></div><div class="abs" style="left:1406px;top:877px;width:12px;height:21px;background:#d4d0c8"></div>
<div class="abs" style="left:1420px;top:876px;width:16px;height:24px;background:#404040"></div><div class="abs" style="left:1420px;top:876px;width:15px;height:23px;background:#fff"></div><div class="abs" style="left:1421px;top:877px;width:14px;height:22px;background:#808080"></div><div class="abs" style="left:1421px;top:877px;width:13px;height:21px;background:#d4d0c8"></div>
<svg class="abs" style="left:0;top:875px" width="1436" height="25"><path d="M1 12.5 L5 9 V16 Z" fill="#000"/><path d="M1430.5 12.5 L1426.5 9 V16 Z" fill="#000"/></svg>
</body></html>
